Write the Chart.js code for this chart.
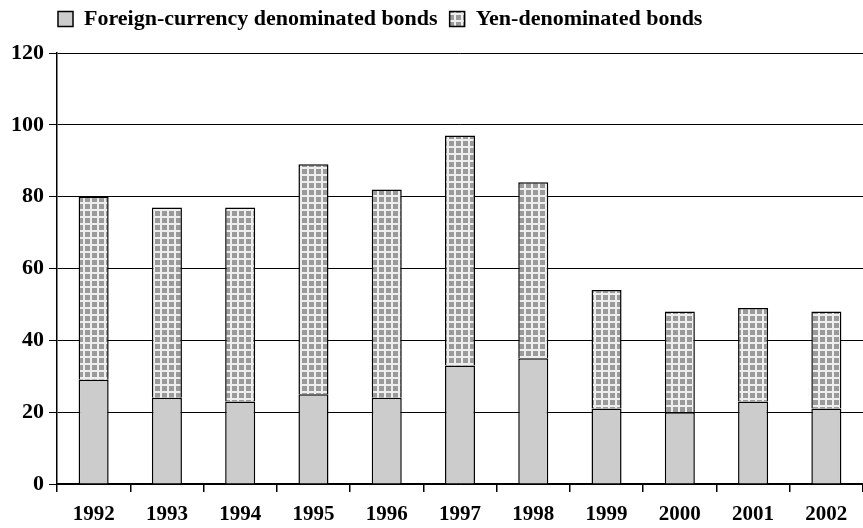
<!DOCTYPE html>
<html>
<head>
<meta charset="utf-8">
<script src="https://cdn.jsdelivr.net/npm/chart.js@4"></script>
<style>
  html, body { margin: 0; padding: 0; background: #fff; }
  #wrap { width: 863px; height: 528px; }
</style>
</head>
<body>
<div id="wrap"><canvas id="barChart" width="863" height="528"></canvas></div>
<script>
const years = ['1992', '1993', '1994', '1995', '1996', '1997', '1998', '1999', '2000', '2001', '2002'];
const foreignBonds = [29, 24, 23, 25, 24, 33, 35, 21, 20, 23, 21];
const yenBonds = [51, 53, 54, 64, 58, 64, 49, 33, 28, 26, 27];
const yTicks = [0, 20, 40, 60, 80, 100, 120];

// grey squares on a light ground, like the print hatch
function makeGrid() {
  const c = document.createElement('canvas');
  c.width = 7; c.height = 7;
  const g = c.getContext('2d');
  g.fillStyle = '#eeeeee';
  g.fillRect(0, 0, 7, 7);
  g.fillStyle = '#9a9a9a';
  g.fillRect(1, 1, 5, 5);
  return g.createPattern(c, 'repeat');
}

const serif = "'Liberation Serif', 'Times New Roman', serif";

// nudge the legend to where the original has it
const legendShift = {
  id: 'legendShift',
  afterLayout(chart) {
    const lg = chart.legend;
    const dx = 46, dy = -13;
    lg.left += dx; lg.right += dx;
    lg.top += dy; lg.bottom += dy;
  }
};

const ctx = document.getElementById('barChart').getContext('2d');
const barChart = new Chart(ctx, {
  type: 'bar',
  data: {
    labels: years,
    datasets: [{
      label: 'Foreign-currency denominated bonds',
      data: foreignBonds,
      backgroundColor: '#cccccc',
      borderColor: '#000',
      borderWidth: 1.5,
      barPercentage: 0.41,
      categoryPercentage: 1
    }, {
      label: 'Yen-denominated bonds',
      data: yenBonds,
      backgroundColor: makeGrid(),
      borderColor: '#000',
      borderWidth: 1.5,
      barPercentage: 0.41,
      categoryPercentage: 1
    }]
  },
  plugins: [legendShift],
  options: {
    responsive: false,
    animation: false,
    layout: { padding: { left: 0, right: 0, top: 9, bottom: 0 } },
    scales: {
      x: {
        stacked: true,
        afterFit: s => { s.height = 44; },
        grid: { drawOnChartArea: false, drawTicks: true, tickLength: 8, color: '#000', lineWidth: 1.5 },
        border: { color: '#000', width: 1.5 },
        ticks: { color: '#000', font: { family: serif, weight: 'bold', size: 21 }, padding: 10, maxRotation: 0 }
      },
      y: {
        stacked: true,
        min: 0,
        max: 120,
        afterBuildTicks: s => { s.ticks = yTicks.map(v => ({ value: v })); },
        afterFit: s => { s.width = 57; },
        grid: { color: '#000', lineWidth: 1, tickLength: 8 },
        border: { color: '#000', width: 1.5 },
        ticks: { color: '#000', font: { family: serif, weight: 'bold', size: 22 }, padding: 5 }
      }
    },
    plugins: {
      legend: {
        position: 'top',
        align: 'start',
        labels: {
          color: '#000',
          font: { family: serif, weight: 'bold', size: 22 },
          boxWidth: 15,
          boxHeight: 15,
          padding: 12
        }
      },
      tooltip: { enabled: false }
    }
  }
});
</script>
</body>
</html>
